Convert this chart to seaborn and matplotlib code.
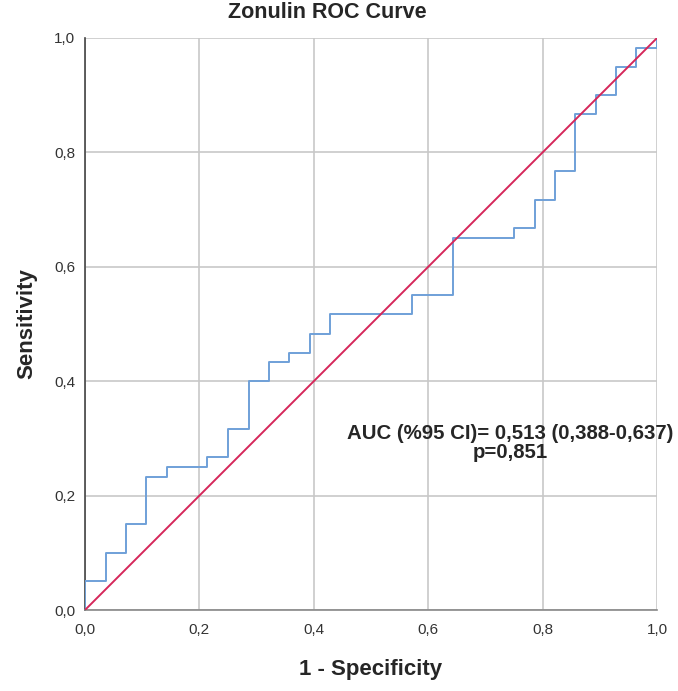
import matplotlib
matplotlib.use("Agg")
import matplotlib.pyplot as plt
import seaborn as sns
import pandas as pd

# ROC curve vertices (1 - specificity, sensitivity)
fpr = [0.000, 0.000, 0.036, 0.036, 0.071, 0.071, 0.107, 0.107, 0.143, 0.143,
       0.214, 0.214, 0.250, 0.250, 0.286, 0.286, 0.321, 0.321, 0.357, 0.357,
       0.393, 0.393, 0.429, 0.429, 0.571, 0.571, 0.643, 0.643, 0.750, 0.750,
       0.786, 0.786, 0.821, 0.821, 0.857, 0.857, 0.893, 0.893, 0.929, 0.929,
       0.964, 0.964, 1.000, 1.000]
tpr = [0.000, 0.050, 0.050, 0.100, 0.100, 0.150, 0.150, 0.233, 0.233, 0.250,
       0.250, 0.267, 0.267, 0.317, 0.317, 0.400, 0.400, 0.433, 0.433, 0.450,
       0.450, 0.483, 0.483, 0.517, 0.517, 0.550, 0.550, 0.650, 0.650, 0.667,
       0.667, 0.717, 0.717, 0.767, 0.767, 0.867, 0.867, 0.900, 0.900, 0.950,
       0.950, 0.983, 0.983, 1.000]
ref_x = [0.0, 1.0]
ref_y = [0.0, 1.0]
ticks = [0.0, 0.2, 0.4, 0.6, 0.8, 1.0]
tick_labels = ["0,0", "0,2", "0,4", "0,6", "0,8", "1,0"]
title = "Zonulin ROC Curve"
annot = "AUC (%95 CI)= 0,513 (0,388-0,637)\np=0,851"

sns.set_style("white")
plt.rcParams["font.family"] = ["Liberation Sans", "DejaVu Sans"]

fig = plt.figure(figsize=(6.78, 6.91), dpi=100)
ax = fig.add_axes([85 / 678, 81 / 691, 572 / 678, 572 / 691])

df = pd.DataFrame({"fpr": fpr, "tpr": tpr})
sns.lineplot(data=df, x="fpr", y="tpr", sort=False, estimator=None,
             color="#6FA0D8", linewidth=1.4, ax=ax, zorder=3)
sns.lineplot(x=ref_x, y=ref_y, color="#D6275A", linewidth=1.4, ax=ax,
             zorder=4)

ax.set_xlim(0, 1)
ax.set_ylim(0, 1)
ax.set_xticks(ticks)
ax.set_yticks(ticks)
ax.set_xticklabels(tick_labels)
ax.set_yticklabels(tick_labels)
ax.tick_params(axis="both", length=0, labelsize=11, colors="#333333")
ax.tick_params(axis="x", pad=9)
ax.tick_params(axis="y", pad=7)
ax.grid(True, color="#C8C8C8", linewidth=1.2)
ax.set_axisbelow(True)
for s in ["top", "right"]:
    ax.spines[s].set_visible(False)
ax.spines["left"].set_color("#444444")
ax.spines["bottom"].set_color("#888888")
ax.spines["left"].set_linewidth(1.2)
ax.spines["bottom"].set_linewidth(1.2)

ax.set_xlabel("1 - Specificity", fontsize=16, fontweight="bold", labelpad=16)
ax.set_ylabel("Sensitivity", fontsize=16, fontweight="bold", labelpad=12)

fig.text(327 / 678, 1 - 13 / 691, title, ha="center", va="center",
         fontsize=15.5, fontweight="bold")

ax.text(0.743, 0.292, annot, ha="center", va="center", multialignment="center",
        fontsize=14.7, fontweight="bold", clip_on=False, linespacing=1.05)

fig.savefig("out.png", dpi=100)
